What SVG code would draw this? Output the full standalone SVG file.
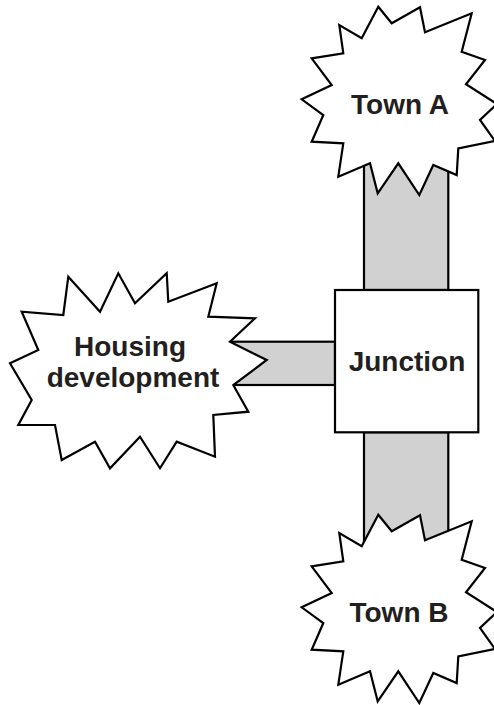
<svg xmlns="http://www.w3.org/2000/svg" width="494" height="705" viewBox="0 0 494 705">
<defs>
<style>
.bar{fill:#d1d1d1;stroke:#000;stroke-width:2.2}
.node{fill:#fff;stroke:#000;stroke-width:2.2;stroke-linejoin:miter}
.lbl{font-family:"Liberation Sans",Arial,Helvetica,sans-serif;font-weight:bold;font-size:28px;fill:#231f20;text-anchor:middle}
</style>
<polygon id="star" points="378.3,6.7 391.7,23.3 420,7.3 425,32.3 471.7,13.3 461.7,51.7 485,60 466,84.3 497,104 480,120 495,141 458.3,148.3 456.7,175 433.3,165 419.3,195 398.3,163.3 377.7,193.3 370,163.3 338.3,176.7 343.3,143.3 311.7,141.7 323.3,115 301.7,99.3 331.7,85 311.7,58.3 343.3,53.3 339.3,25 361.7,38.3"/>
</defs>
<g id="connectors">
<rect class="bar" x="364" y="150" width="84.3" height="140"/>
<rect class="bar" x="364" y="432.3" width="84.3" height="130"/>
<rect class="bar" x="210" y="341.7" width="125" height="43.3"/>
</g>
<g id="townA">
<use href="#star" class="node"/>
<text class="lbl" x="400" y="113.5">Town A</text>
</g>
<g id="townB">
<use href="#star" class="node" transform="translate(0,508)"/>
<text class="lbl" x="399" y="621.5">Town B</text>
</g>
<g id="housing">
<polygon class="node" points="68.3,276.7 100,311.7 118.3,273.3 135,303.3 166.7,273.3 168.3,301.7 216.7,283.3 208.3,316.7 255,318.3 230,341.7 266.7,360 233.3,385 248.3,411.7 213.3,415 215,456.7 176.7,441.7 160,468.3 140,436.7 110,468.3 95,441.7 61.7,460 55,425 18.3,425 31.7,400 10,363.3 38.3,350 21.7,311.7 63.3,315"/>
<text class="lbl" x="130" y="356">Housing</text>
<text class="lbl" x="133" y="387">development</text>
</g>
<g id="junction">
<rect class="node" x="335" y="290" width="143.3" height="142.3"/>
<text class="lbl" x="407" y="370.5">Junction</text>
</g>
</svg>
